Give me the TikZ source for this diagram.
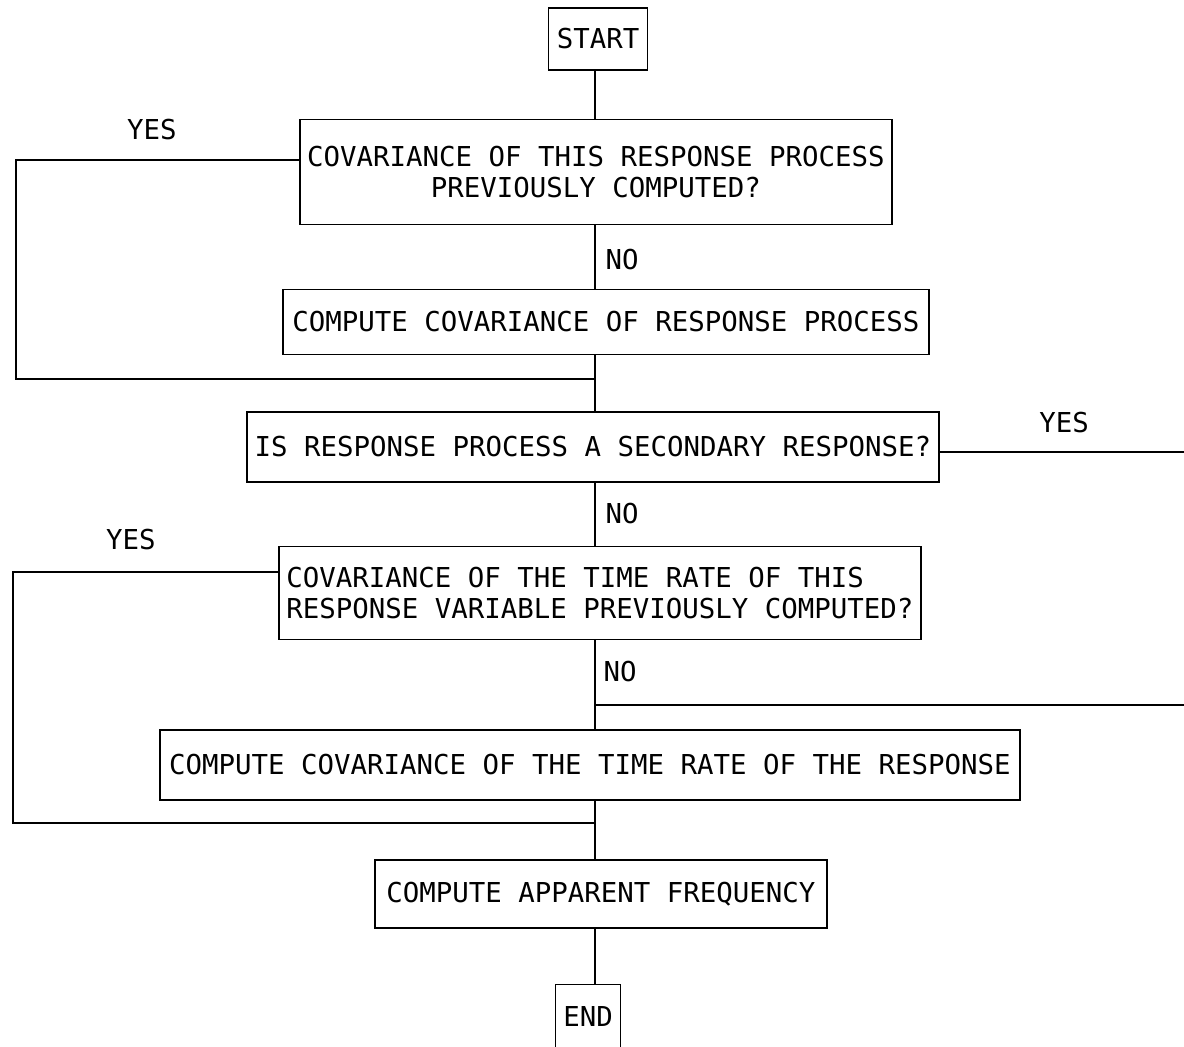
\documentclass[tikz,border=0pt]{standalone}
\usepackage{fontspec}
\setmainfont{DejaVu Sans Mono}
\usetikzlibrary{calc}

\begin{document}
\begin{tikzpicture}[x=0.02cm,y=-0.02cm,line width=1.1pt,
	font=\fontsize{15.6pt}{18pt}\selectfont,
	box/.style={draw,inner sep=0pt,align=center},
	tag/.style={inner sep=0pt}]
	\useasboundingbox (0,0) rectangle (1184,1047);
	% boxes
	\node[box,minimum width=1.98cm,minimum height=1.24cm] (start) at (598,39) {START};
	\node[box,minimum width=11.86cm,minimum height=2.1cm] (q1) at (596,172) {COVARIANCE OF THIS RESPONSE PROCESS\\PREVIOUSLY COMPUTED?};
	\node[box,minimum width=12.94cm,minimum height=1.3cm] (c1) at (606,322) {COMPUTE COVARIANCE OF RESPONSE PROCESS};
	\node[box,minimum width=13.86cm,minimum height=1.4cm] (q2) at (593,447) {IS RESPONSE PROCESS A SECONDARY RESPONSE?};
	\node[box,align=left,minimum width=12.86cm,minimum height=1.86cm] (q3) at (600,593) {COVARIANCE OF THE TIME RATE OF THIS\\RESPONSE VARIABLE PREVIOUSLY COMPUTED?};
	\node[box,minimum width=17.2cm,minimum height=1.4cm] (c2) at (590,765) {COMPUTE COVARIANCE OF THE TIME RATE OF THE RESPONSE};
	\node[box,minimum width=9.06cm,minimum height=1.36cm] (c3) at (601,894) {COMPUTE APPARENT FREQUENCY};
	\node[box,minimum width=1.3cm,minimum height=1.3cm] (end) at (588,1017) {END};
	% labels
	\node[tag] (yes1) at (152,130) {YES};
	\node[tag] (no1) at (622,260) {NO};
	\node[tag] (yes2) at (1064,423) {YES};
	\node[tag] (no2) at (622,514) {NO};
	\node[tag] (yes3) at (131,540) {YES};
	\node[tag] (no3) at (620,672) {NO};
	% main line
	\coordinate (axis) at (595,0);
	\draw (start.south -| axis) -- (q1.north -| axis);
	\draw (q1.south -| axis) -- (c1.north -| axis);
	\draw (c1.south -| axis) -- (q2.north -| axis);
	\draw (q2.south -| axis) -- (q3.north -| axis);
	\draw (q3.south -| axis) -- (c2.north -| axis);
	\draw (c2.south -| axis) -- (c3.north -| axis);
	\draw (c3.south -| axis) -- (end.north -| axis);
	% yes branches
	\coordinate (l1a) at (16,160);
	\coordinate (l1b) at (16,379);
	\coordinate (j1) at (595,379);
	\draw (q1.west |- l1a) -- (l1a) -- (l1b) -- (j1);
	\coordinate (r1) at (1184,452);
	\draw (q2.east |- r1) -- (r1);
	\coordinate (r2) at (1184,705);
	\coordinate (j2) at (595,705);
	\draw (r2) -- (j2);
	\coordinate (l2a) at (13,572);
	\coordinate (l2b) at (13,823);
	\coordinate (j3) at (595,823);
	\draw (q3.west |- l2a) -- (l2a) -- (l2b) -- (j3);
\end{tikzpicture}
\end{document}
